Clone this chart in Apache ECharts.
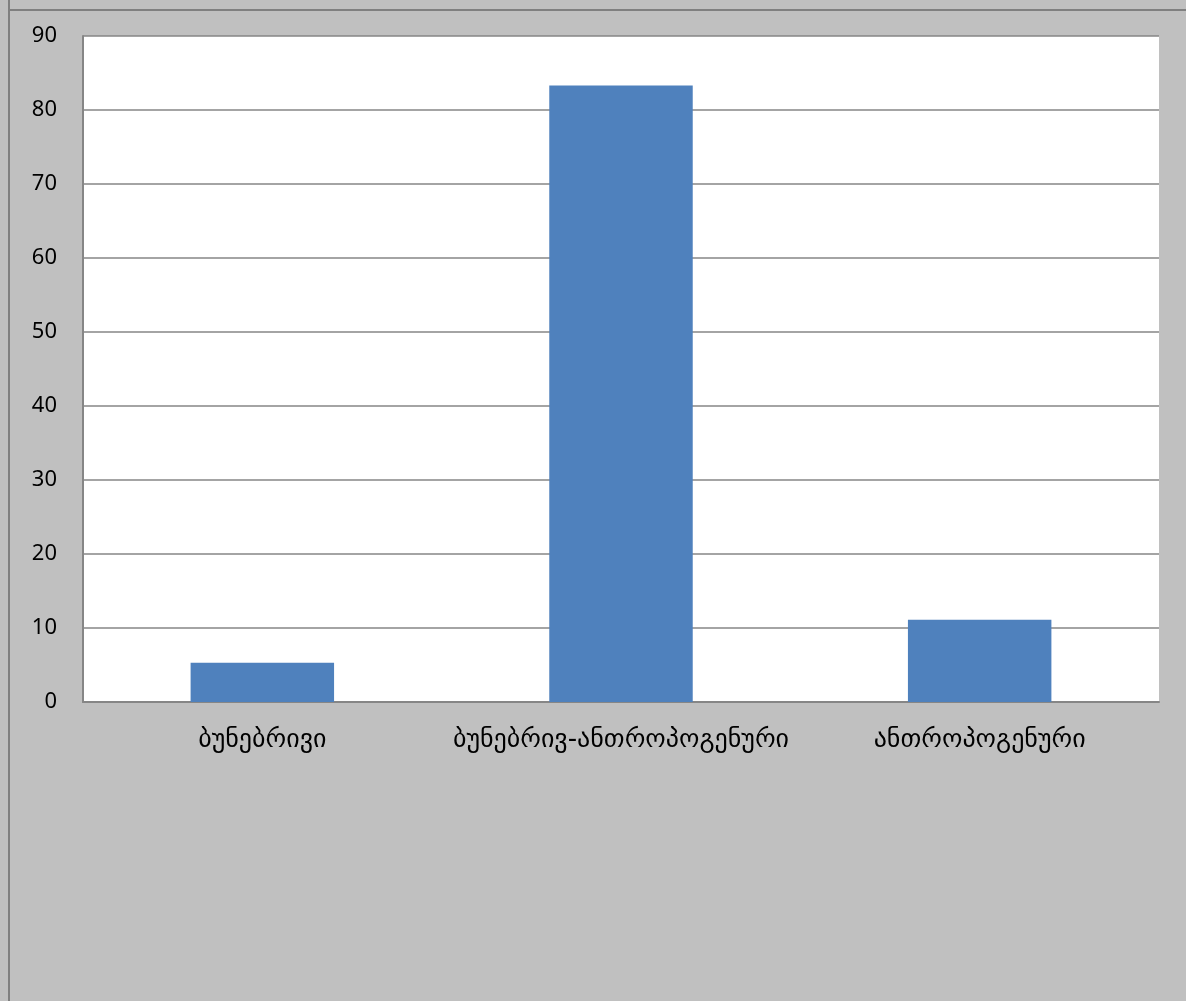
<!DOCTYPE html>
<html>
<head>
<meta charset="utf-8">
<script src="https://cdn.jsdelivr.net/npm/echarts@6/dist/echarts.min.js"></script>
<style>
html,body{margin:0;padding:0;background:#c0c0c0;}
#chart{width:1186px;height:1001px;}
</style>
</head>
<body>
<div id="chart"></div>
<script>
const categories = ['ბუნებრივი', 'ბუნებრივ-ანთროპოგენური', 'ანთროპოგენური'];
const values = [5.3, 83.3, 11.1];
const yTicks = { min: 0, max: 90, interval: 10 };

const chart = echarts.init(document.getElementById('chart'), null, { renderer: 'canvas' });
chart.setOption({
  backgroundColor: '#c0c0c0',
  animation: false,
  graphic: [
    { type: 'line', shape: { x1: 9, y1: 0, x2: 9, y2: 1001 }, style: { stroke: '#808080', lineWidth: 2 }, z: 100 },
    { type: 'line', shape: { x1: 8, y1: 10, x2: 1186, y2: 10 }, style: { stroke: '#808080', lineWidth: 2 }, z: 100 }
  ],
  grid: {
    left: 83, top: 36, right: 27, bottom: 299,
    show: true, backgroundColor: '#ffffff', borderWidth: 0, containLabel: false
  },
  xAxis: {
    type: 'category',
    data: categories,
    axisLine: { show: true, lineStyle: { color: '#868686', width: 2 } },
    axisTick: { show: false },
    axisLabel: {
      color: '#000', fontSize: 26, margin: 25, interval: 0, hideOverlap: false,
      fontFamily: '"DejaVu Sans", "Noto Sans", sans-serif'
    },
    splitLine: { show: false }
  },
  yAxis: {
    type: 'value',
    min: yTicks.min, max: yTicks.max, interval: yTicks.interval,
    axisLine: { show: true, lineStyle: { color: '#868686', width: 2 } },
    axisTick: { show: false },
    axisLabel: {
      color: '#000', fontSize: 22, margin: 26,
      fontFamily: '"Noto Sans", "Open Sans", sans-serif'
    },
    splitLine: { show: true, lineStyle: { color: '#868686', width: 1.5 } }
  },
  series: [{
    type: 'bar',
    data: values,
    barWidth: '40%',
    itemStyle: { color: '#4f81bd' }
  }]
});
</script>
</body>
</html>
